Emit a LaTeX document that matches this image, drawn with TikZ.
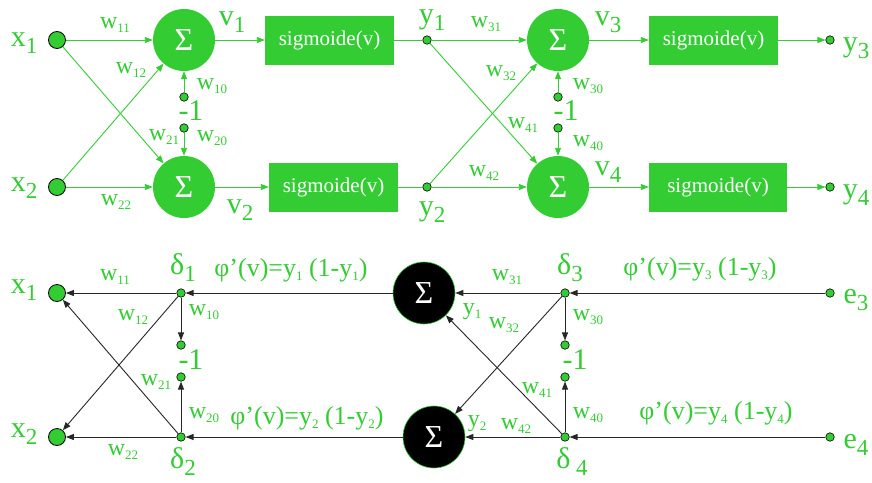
\documentclass[tikz,border=0pt]{standalone}
\usepackage{fontspec}
\setmainfont{Liberation Serif}
\usepackage{xcolor}
\usetikzlibrary{arrows.meta}

\definecolor{nngreen}{RGB}{51,204,51}
\newcommand{\bigsub}[2]{#1\raisebox{-7pt}{\fontsize{23}{23}\selectfont #2}}
\newcommand{\smallsub}[2]{#1\raisebox{-4pt}{\fontsize{13}{13}\selectfont #2}}

\begin{document}
\begin{tikzpicture}[x=1pt, y=-1pt,
    sum node/.style={circle, fill=nngreen, minimum size=62pt, inner sep=0pt, text=white, font=\fontsize{32}{32}\selectfont},
    back sum/.style={circle, fill=black, draw=nngreen, line width=0.6pt, minimum size=62pt, inner sep=0pt, text=white, font=\fontsize{32}{32}\selectfont},
    sig box/.style={rectangle, fill=nngreen, minimum height=49pt, inner sep=0pt, text=white, font=\fontsize{21}{21}\selectfont},
    in node/.style={circle, draw=black, fill=nngreen, line width=0.8pt, minimum size=17pt, inner sep=0pt},
    port/.style={circle, draw=black, fill=nngreen, line width=0.6pt, minimum size=8.5pt, inner sep=0pt},
    big lab/.style={text=nngreen, font=\fontsize{30}{30}\selectfont, inner sep=0pt},
    w lab/.style={text=nngreen, font=\fontsize{24}{24}\selectfont, inner sep=0pt},
    phi lab/.style={text=nngreen, font=\fontsize{26}{26}\selectfont, inner sep=0pt},
    arrow/.style={-{Triangle[length=8pt, width=6pt]}, nngreen, line width=0.9pt},
    link/.style={nngreen, line width=0.9pt},
    back arrow/.style={-{Triangle[length=8pt, width=6pt]}, black!85, line width=0.9pt}
]
\useasboundingbox (0,0) rectangle (872,482);

% forward pass
\node[in node] (x1) at (57,40) {};
\node[in node] (x2) at (57,187) {};
\node[sum node] (s1) at (184,40) {Σ};
\node[sum node] (s2) at (184,187) {Σ};
\node[port] (b1) at (184,97) {};
\node[port] (b2) at (184,128) {};
\node[sig box, minimum width=129pt] (f1) at (329.5,40) {sigmoide(v)};
\node[sig box, minimum width=129pt] (f2) at (333.5,187) {sigmoide(v)};
\node[port] (y1) at (427,40) {};
\node[port] (y2) at (427,187) {};
\node[sum node] (s3) at (558,40) {Σ};
\node[sum node] (s4) at (558,187) {Σ};
\node[port] (b3) at (558,97) {};
\node[port] (b4) at (558,128) {};
\node[sig box, minimum width=129pt] (f3) at (713.5,40) {sigmoide(v)};
\node[sig box, minimum width=138pt] (f4) at (718,187) {sigmoide(v)};
\node[port] (y3) at (830,40) {};
\node[port] (y4) at (830,187) {};

\draw[arrow] (x1) -- (s1);
\draw[arrow] (x1) -- (s2);
\draw[arrow] (x2) -- (s1);
\draw[arrow] (x2) -- (s2);
\draw[arrow] (b1) -- (s1);
\draw[arrow] (b2) -- (s2);
\draw[arrow] (s1) -- (f1);
\draw[arrow] (s2) -- (f2);
\draw[link] (f1) -- (y1);
\draw[link] (f2) -- (y2);
\draw[arrow] (y1) -- (s3);
\draw[arrow] (y1) -- (s4);
\draw[arrow] (y2) -- (s3);
\draw[arrow] (y2) -- (s4);
\draw[arrow] (b3) -- (s3);
\draw[arrow] (b4) -- (s4);
\draw[arrow] (s3) -- (f3);
\draw[arrow] (s4) -- (f4);
\draw[arrow] (f3) -- (y3);
\draw[arrow] (f4) -- (y4);

\node[big lab] (lx1) at (24,43) {\bigsub{x}{1}};
\node[big lab] (lx2) at (24,188) {\bigsub{x}{2}};
\node[w lab] (lw11) at (115,25) {\smallsub{w}{11}};
\node[w lab] (lw12) at (131,70) {\smallsub{w}{12}};
\node[w lab] (lw10) at (212,86) {\smallsub{w}{10}};
\node[big lab] (lm1) at (191,111) {-1};
\node[w lab] (lw21) at (164,137) {\smallsub{w}{21}};
\node[w lab] (lw20) at (212,138) {\smallsub{w}{20}};
\node[w lab] (lw22) at (116,202) {\smallsub{w}{22}};
\node[big lab] (lv1) at (232,22) {\bigsub{v}{1}};
\node[big lab] (lv2) at (240,210) {\bigsub{v}{2}};
\node[big lab] (ly1) at (432,20) {\bigsub{y}{1}};
\node[big lab] (ly2) at (432,212) {\bigsub{y}{2}};
\node[w lab] (lw31) at (486,24) {\smallsub{w}{31}};
\node[w lab] (lw32) at (501,73) {\smallsub{w}{32}};
\node[w lab] (lw30) at (588,86) {\smallsub{w}{30}};
\node[big lab] (lm2) at (566,111) {-1};
\node[w lab] (lw41) at (523,125) {\smallsub{w}{41}};
\node[w lab] (lw40) at (588,143) {\smallsub{w}{40}};
\node[w lab] (lw42) at (484,173) {\smallsub{w}{42}};
\node[big lab] (lv3) at (608,22) {\bigsub{v}{3}};
\node[big lab] (lv4) at (608,172) {\bigsub{v}{4}};
\node[big lab] (ly3) at (856,48) {\bigsub{y}{3}};
\node[big lab] (ly4) at (856,195) {\bigsub{y}{4}};

% backward pass
\node[in node] (bx1) at (57,293) {};
\node[in node] (bx2) at (57,437) {};
\node[port] (d1) at (181,293) {};
\node[port] (d2) at (181,437) {};
\node[port] (c1) at (181,345) {};
\node[port] (c2) at (181,377) {};
\node[back sum] (bs1) at (424,293) {Σ};
\node[back sum] (bs2) at (434,437) {Σ};
\node[port] (d3) at (565,293) {};
\node[port] (d4) at (565,437) {};
\node[port] (c3) at (565,345) {};
\node[port] (c4) at (565,377) {};
\node[port] (e3) at (830,293) {};
\node[port] (e4) at (830,437) {};

\draw[back arrow] (d1) -- (bx1);
\draw[back arrow] (d1) -- (bx2);
\draw[back arrow] (d2) -- (bx1);
\draw[back arrow] (d2) -- (bx2);
\draw[back arrow] (d1) -- (c1);
\draw[back arrow] (d2) -- (c2);
\draw[back arrow] (bs1) -- (d1);
\draw[back arrow] (bs2) -- (d2);
\draw[back arrow] (d3) -- (bs1);
\draw[back arrow] (d3) -- (bs2);
\draw[back arrow] (d4) -- (bs1);
\draw[back arrow] (d4) -- (bs2);
\draw[back arrow] (d3) -- (c3);
\draw[back arrow] (d4) -- (c4);
\draw[back arrow] (e3) -- (d3);
\draw[back arrow] (e4) -- (d4);

\node[big lab] (lbx1) at (24,290) {\bigsub{x}{1}};
\node[big lab] (lbx2) at (24,434) {\bigsub{x}{2}};
\node[w lab] (lbw11) at (115,277) {\smallsub{w}{11}};
\node[big lab] (ld1) at (183,268) {\bigsub{δ}{1}};
\node[phi lab] (lphi1) at (291,270) {φ’(v)=\smallsub{y}{1} (1-\smallsub{y}{1})};
\node[w lab] (lbw12) at (133,317) {\smallsub{w}{12}};
\node[w lab] (lbw10) at (204,312) {\smallsub{w}{10}};
\node[big lab] (lbm1) at (191,360) {-1};
\node[w lab] (lbw21) at (156,382) {\smallsub{w}{21}};
\node[w lab] (lbw20) at (204,415) {\smallsub{w}{20}};
\node[phi lab] (lphi2) at (307,418) {φ’(v)=\smallsub{y}{2} (1-\smallsub{y}{2})};
\node[w lab] (lbw22) at (123,452) {\smallsub{w}{22}};
\node[big lab] (ld2) at (183,462) {\bigsub{δ}{2}};
\node[w lab] (lbw31) at (507,277) {\smallsub{w}{31}};
\node[big lab] (ld3) at (570,268) {\bigsub{δ}{3}};
\node[phi lab] (lphi3) at (700,269) {φ’(v)=\smallsub{y}{3} (1-\smallsub{y}{3})};
\node[big lab] (le3) at (856,300) {\bigsub{e}{3}};
\node[w lab] (lby1) at (472,312) {\smallsub{y}{1}};
\node[w lab] (lbw32) at (504,325) {\smallsub{w}{32}};
\node[w lab] (lbw30) at (588,317) {\smallsub{w}{30}};
\node[big lab] (lbm2) at (575,360) {-1};
\node[w lab] (lbw41) at (537,390) {\smallsub{w}{41}};
\node[w lab] (lbw40) at (588,415) {\smallsub{w}{40}};
\node[phi lab] (lphi4) at (716,413) {φ’(v)=\smallsub{y}{4} (1-\smallsub{y}{4})};
\node[w lab] (lby2) at (477,424) {\smallsub{y}{2}};
\node[w lab] (lbw42) at (516,426) {\smallsub{w}{42}};
\node[big lab] (le4) at (856,445) {\bigsub{e}{4}};
\node[big lab] (ld4) at (572,462) {\bigsub{δ}{ 4}};

\end{tikzpicture}
\end{document}
